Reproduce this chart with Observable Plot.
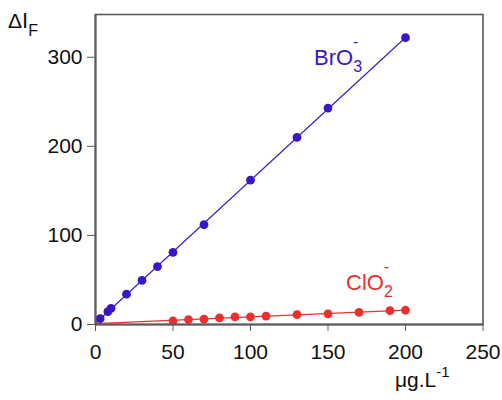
<!DOCTYPE html>
<html>
<head>
<meta charset="utf-8">
<script src="https://cdn.jsdelivr.net/npm/d3@7"></script>
<script src="https://cdn.jsdelivr.net/npm/@observablehq/plot@0.6"></script>
<style>
  html, body { margin: 0; padding: 0; background: #fff; }
  #chart { width: 502px; height: 400px; }
  svg { font-family: "Liberation Sans", Arial, sans-serif; }
</style>
</head>
<body>
<div id="chart"></div>
<script>
// ---- data ----
const bro3X = [3, 8, 10, 20, 30, 40, 50, 70, 100, 130, 150, 200];
const bro3Y = [6.5, 14.5, 18, 34, 49.5, 65, 81, 112, 162, 210, 243, 322];
const clo2X = [50, 60, 70, 80, 90, 100, 110, 130, 150, 170, 190, 200];
const clo2Y = [4, 5.5, 6, 7.5, 8.5, 8.5, 9.5, 11, 12, 13.5, 15.5, 16];
const xTicks = [0, 50, 100, 150, 200, 250];
const yTicks = [0, 100, 200, 300];

const blue = "#3a17c6";
const red = "#e8312d";
const axisColor = "#5b5b5b";

const bro3 = bro3X.map((x, i) => ({x, y: bro3Y[i]}));
const clo2 = clo2X.map((x, i) => ({x, y: clo2Y[i]}));

function fitLine(pts, x0, x1) {
  const mx = d3.mean(pts, d => d.x), my = d3.mean(pts, d => d.y);
  let sxy = 0, sxx = 0;
  for (const p of pts) { sxy += (p.x - mx) * (p.y - my); sxx += (p.x - mx) ** 2; }
  const b = sxy / sxx, a = my - b * mx;
  return [{x: x0, y: Math.max(0, a + b * x0)}, {x: x1, y: a + b * x1}];
}
const bro3Line = fitLine(bro3, 0, d3.max(bro3X));
const clo2Line = fitLine(clo2, 0, d3.max(clo2X));

const plot = Plot.plot({
  width: 502,
  height: 400,
  marginLeft: 95,
  marginRight: 19.5,
  marginTop: 14,
  marginBottom: 76,
  style: {fontSize: "21px", fontFamily: "Liberation Sans, Arial, sans-serif", color: "#111", background: "#fff"},
  x: {domain: [0, 250], ticks: xTicks, tickSize: 7, tickPadding: 13, label: null},
  y: {domain: [0, 348], ticks: yTicks, tickSize: 8, tickPadding: 5, label: null},
  marks: [
    Plot.frame({stroke: axisColor, strokeWidth: 1.6}),
    Plot.line(clo2Line, {x: "x", y: "y", stroke: red, strokeWidth: 1.2}),
    Plot.line(bro3Line, {x: "x", y: "y", stroke: blue, strokeWidth: 1.1}),
    Plot.dot(clo2, {x: "x", y: "y", r: 4.4, fill: red, stroke: "none"}),
    Plot.dot(bro3, {x: "x", y: "y", r: 4.4, fill: blue, stroke: "none"}),
    Plot.ruleY([0], {stroke: axisColor, strokeWidth: 2}),
    Plot.ruleX([0], {stroke: axisColor, strokeWidth: 2})
  ]
});

document.getElementById("chart").appendChild(plot);

d3.select(plot).selectAll("g[aria-label*='tick'] path").attr("stroke", axisColor);

const sx = plot.scale("x"), sy = plot.scale("y");
const svg = d3.select(plot);

function chemLabel(parts, x, y, color) {
  const t = svg.append("text")
    .attr("x", x).attr("y", y)
    .attr("fill", color)
    .attr("text-anchor", "start")
    .style("font-size", "22px")
    .style("font-family", "Liberation Sans, Arial, sans-serif");
  t.append("tspan").text(parts.base);
  t.append("tspan").attr("dy", 7).style("font-size", "16px").text(parts.sub);
  t.append("tspan").attr("dx", -9).attr("dy", -25).style("font-size", "16px").text("-");
  return t;
}

// BrO3- label near upper end of the BrO3- line
chemLabel({base: "BrO", sub: "3"}, sx.apply(200) - 91, sy.apply(322) + 28, blue);
// ClO2- label above upper end of ClO2- line
chemLabel({base: "ClO", sub: "2"}, sx.apply(200) - 59, sy.apply(16) - 20, red);

// y axis title: ΔI_F
const yt = svg.append("text").attr("x", 8).attr("y", 28).attr("fill", "#111")
  .attr("text-anchor", "start")
  .style("font-size", "21px");
yt.append("tspan").text("Δ");
yt.append("tspan").style("font-size", "22px").text("I");
yt.append("tspan").attr("dy", 8).style("font-size", "16px").text("F");

// x axis title: μg.L-1
const xt = svg.append("text").attr("x", 395).attr("y", 387).attr("fill", "#111")
  .attr("text-anchor", "start")
  .style("font-size", "21px");
xt.append("tspan").text("μg.L");
xt.append("tspan").attr("dy", -10).style("font-size", "15px").text("-1");
</script>
</body>
</html>
